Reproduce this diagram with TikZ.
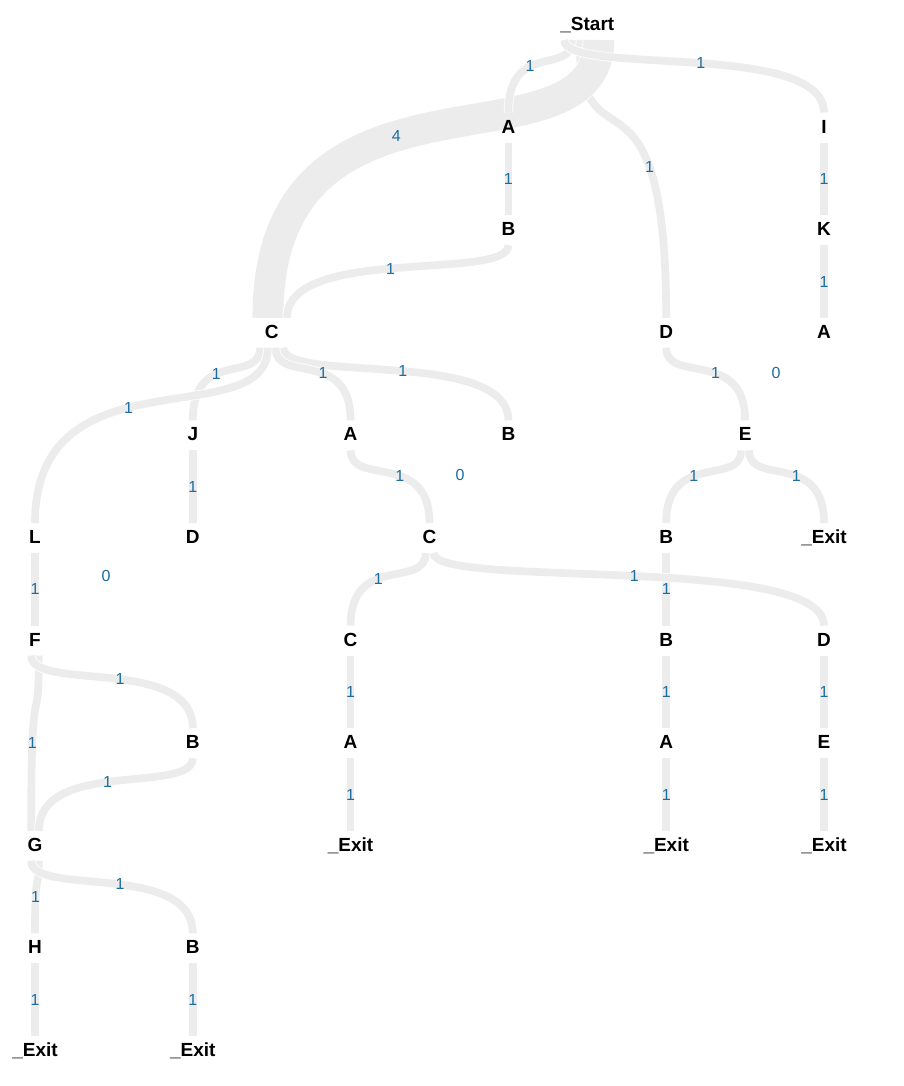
\documentclass[tikz,border=0pt]{standalone}
\usepackage{fontspec}
\setmainfont{Liberation Sans}
\usetikzlibrary{calc,decorations.markings}
\definecolor{bandgray}{RGB}{236,236,236}
\definecolor{flowblue}{RGB}{28,108,160}
\pgfdeclarelayer{flows}
\pgfsetlayers{flows,main}
\newcommand\uw{7.7pt}
% \flow{source}{source slot dx}{target}{target slot dx}{band width}{label}
\newcommand\flow[6]{%
  \path ($(#1.base)+(#2,9.5)$) coordinate (p0)
        ($(#3.base)+(#4,-20.5)$) coordinate (p3)
        ($(p0)!0.5!(p3)$) coordinate (pm);
  \draw[band, line width=#5,
        preaction={draw=white, line width=#5+1.6pt},
        postaction={decorate, decoration={markings,
          mark=at position 0.5 with {\node[flowlbl]{#6};}}}]
    (p0) .. controls (p0 |- pm) and (p3 |- p0) .. (p3);
}
\tikzset{
  state/.style={anchor=base, inner sep=0pt, font=\fontsize{19}{19}\selectfont\bfseries},
  band/.style={draw=bandgray, line cap=butt},
  flowlbl/.style={text=flowblue, inner sep=0pt, font=\fontsize{16}{16}\selectfont},
}
\begin{document}
\begin{tikzpicture}[x=1pt, y=-1pt]
\useasboundingbox (0,0) rectangle (904,1086);
% activity nodes
\node[state] (start) at (587.3,30.5) {\_Start};
\node[state] (a1) at (508.4,133.1) {A};
\node[state] (i1) at (824,133.1) {I};
\node[state] (b1) at (508.4,235.7) {B};
\node[state] (k1) at (824,235.7) {K};
\node[state] (c1) at (271.7,338.3) {C};
\node[state] (d1) at (666.2,338.3) {D};
\node[state] (a2) at (824,338.3) {A};
\node[state] (j1) at (192.8,440.9) {J};
\node[state] (a3) at (350.6,440.9) {A};
\node[state] (b2) at (508.4,440.9) {B};
\node[state] (e1) at (745.1,440.9) {E};
\node[state] (l1) at (35,543.5) {L};
\node[state] (d2) at (192.8,543.5) {D};
\node[state] (c2) at (429.5,543.5) {C};
\node[state] (b3) at (666.2,543.5) {B};
\node[state] (x1) at (824,543.5) {\_Exit};
\node[state] (f1) at (35,646.1) {F};
\node[state] (c3) at (350.6,646.1) {C};
\node[state] (b4) at (666.2,646.1) {B};
\node[state] (d3) at (824,646.1) {D};
\node[state] (b5) at (192.8,748.7) {B};
\node[state] (a4) at (350.6,748.7) {A};
\node[state] (a5) at (666.2,748.7) {A};
\node[state] (e2) at (824,748.7) {E};
\node[state] (g1) at (35,851.3) {G};
\node[state] (x2) at (350.6,851.3) {\_Exit};
\node[state] (x3) at (666.2,851.3) {\_Exit};
\node[state] (x4) at (824,851.3) {\_Exit};
\node[state] (h1) at (35,953.9) {H};
\node[state] (b6) at (192.8,953.9) {B};
\node[state] (x5) at (35,1056.5) {\_Exit};
\node[state] (x6) at (192.8,1056.5) {\_Exit};
% zero-count labels
\node[flowlbl] (z1) at (776,373) {0};
\node[flowlbl] (z2) at (460,475) {0};
\node[flowlbl] (z3) at (106,576) {0};
\begin{pgfonlayer}{flows}
\fill[white] (0,0) rectangle (904,1086);
\flow{start}{-7.7}{d1}{0}{\uw}{1}
\flow{start}{11.55}{c1}{-3.85}{4*\uw}{4}
\flow{start}{-15.4}{a1}{0}{\uw}{1}
\flow{start}{-23.1}{i1}{0}{\uw}{1}
\flow{a1}{0}{b1}{0}{\uw}{1}
\flow{b1}{0}{c1}{15.4}{\uw}{1}
\flow{i1}{0}{k1}{0}{\uw}{1}
\flow{k1}{0}{a2}{0}{\uw}{1}
\flow{c1}{11.55}{b2}{0}{\uw}{1}
\flow{c1}{3.85}{a3}{0}{\uw}{1}
\flow{c1}{-11.55}{j1}{0}{\uw}{1}
\flow{c1}{-3.85}{l1}{0}{\uw}{1}
\flow{d1}{0}{e1}{0}{\uw}{1}
\flow{j1}{0}{d2}{0}{\uw}{1}
\flow{a3}{0}{c2}{0}{\uw}{1}
\flow{e1}{-3.85}{b3}{0}{\uw}{1}
\flow{e1}{3.85}{x1}{0}{\uw}{1}
\flow{l1}{0}{f1}{0}{\uw}{1}
\flow{b3}{0}{b4}{0}{\uw}{1}
\flow{c2}{-3.85}{c3}{0}{\uw}{1}
\flow{c2}{3.85}{d3}{0}{\uw}{1}
\flow{f1}{3.85}{g1}{-3.85}{\uw}{1}
\flow{f1}{-3.85}{b5}{0}{\uw}{1}
\flow{b5}{0}{g1}{3.85}{\uw}{1}
\flow{c3}{0}{a4}{0}{\uw}{1}
\flow{b4}{0}{a5}{0}{\uw}{1}
\flow{d3}{0}{e2}{0}{\uw}{1}
\flow{a4}{0}{x2}{0}{\uw}{1}
\flow{a5}{0}{x3}{0}{\uw}{1}
\flow{e2}{0}{x4}{0}{\uw}{1}
\flow{g1}{3.85}{h1}{0}{\uw}{1}
\flow{g1}{-3.85}{b6}{0}{\uw}{1}
\flow{h1}{0}{x5}{0}{\uw}{1}
\flow{b6}{0}{x6}{0}{\uw}{1}
\end{pgfonlayer}
\end{tikzpicture}
\end{document}
